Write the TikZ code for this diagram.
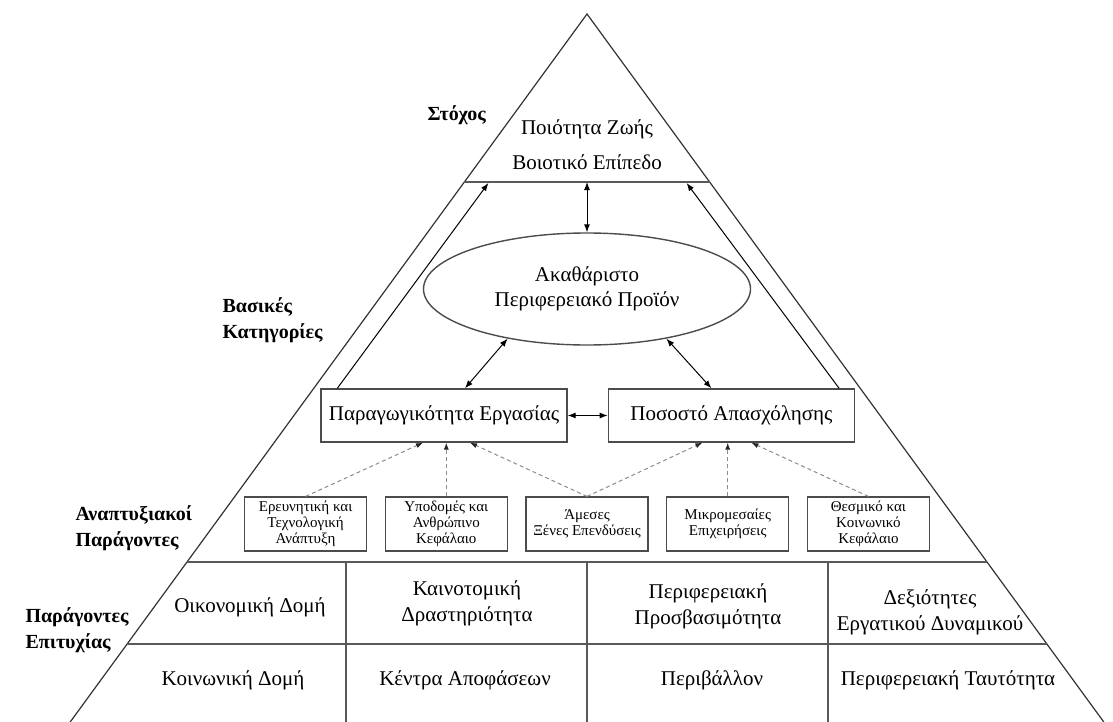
\documentclass[tikz,border=0pt]{standalone}
\usepackage{fontspec}
\setmainfont{Liberation Serif}
\usetikzlibrary{calc, positioning, shapes.geometric}
\usetikzlibrary{arrows.meta}

\tikzset{
  pyrside/.style={draw=black!80, line width=0.6pt},
  tierline/.style={draw=black!65, line width=0.8pt},
  mainbox/.style={draw=black!70, line width=0.7pt, minimum width=123pt, minimum height=26.5pt, inner sep=0pt},
  factor/.style={draw=black!70, line width=0.6pt, minimum width=61pt, minimum height=27pt, inner sep=0pt, align=center, font=\fontsize{7.5}{8}\selectfont},
  tag/.style={anchor=west, align=left, inner sep=0pt, font=\bfseries\fontsize{10}{13}\selectfont},
  cell/.style={align=center, inner sep=0pt},
  dotarrow/.style={-{Latex[length=3.5pt, width=2.6pt, black!85]}, black!45, line width=0.5pt, dash pattern=on 2pt off 1.5pt}
}

\begin{document}
\begin{tikzpicture}[x=0.5pt, y=-0.5pt, font=\fontsize{10.5}{13}\selectfont, >={Latex[length=4pt, width=3pt]}, line width=0.5pt]
    \useasboundingbox (0,0) rectangle (1113,722);

    % pyramid
    \coordinate (apex) at (587,14);
    \coordinate (bl) at (70.2,722);
    \coordinate (br) at (1103.8,722);
    \draw[pyrside] (bl) -- (apex) -- (br);

    \draw[tierline] ($(apex)!0.2373!(bl)$) -- ($(apex)!0.2373!(br)$);
    \draw[tierline] ($(apex)!0.7740!(bl)$) -- ($(apex)!0.7740!(br)$);
    \draw[tierline] ($(apex)!0.8898!(bl)$) -- ($(apex)!0.8898!(br)$);
    \draw[tierline] (346,562) -- (346,722);
    \draw[tierline] (587,562) -- (587,722);
    \draw[tierline] (828,562) -- (828,722);

    % tiers on the left
    \node[tag] (goaltag) at (427,115) {Στόχος};
    \node[tag] (basetag) at (222,320) {Βασικές\\Κατηγορίες};
    \node[tag] (devtag) at (75,528) {Αναπτυξιακοί\\Παράγοντες};
    \node[tag] (succtag) at (25,630) {Παράγοντες\\Επιτυχίας};

    \node[cell] (goal) at (587,145) {Ποιότητα Ζωής\\[4.5pt]Βοιοτικό Επίπεδο};
    \coordinate (goalbase) at (587,182);

    \node[ellipse, draw=black!70, line width=0.7pt, minimum width=163.5pt, minimum height=56pt, inner sep=0pt, align=center, font=\fontsize{10.5}{12.5}\selectfont] (gdp) at (587,289) {Ακαθάριστο\\Περιφερειακό Προϊόν};

    \node[mainbox] (parag) at (444,415.5) {Παραγωγικότητα Εργασίας};
    \node[mainbox, right=20pt of parag] (pct) {Ποσοστό Απασχόλησης};

    \node[factor] (f3) at (587,524) {Άμεσες\\Ξένες Επενδύσεις};
    \node[factor, left=8.75pt of f3] (f2) {Υποδομές και\\Ανθρώπινο\\Κεφάλαιο};
    \node[factor, left=8.75pt of f2] (f1) {Ερευνητική και\\Τεχνολογική\\Ανάπτυξη};
    \node[factor, right=8.75pt of f3] (f4) {Μικρομεσαίες\\Επιχειρήσεις};
    \node[factor, right=8.75pt of f4] (f5) {Θεσμικό και\\Κοινωνικό\\Κεφάλαιο};

    % success factors
    \node[cell] (c11) at (250,607) {Οικονομική Δομή};
    \node[cell] (c12) at (467,603.5) {Καινοτομική\\Δραστηριότητα};
    \node[cell] (c13) at (708,606) {Περιφερειακή\\Προσβασιμότητα};
    \node[cell] (c14) at (930,612) {Δεξιότητες\\Εργατικού Δυναμικού};
    \node[cell] (c21) at (233,680) {Κοινωνική Δομή};
    \node[cell] (c22) at (465,680) {Κέντρα Αποφάσεων};
    \node[cell] (c23) at (712,680) {Περιβάλλον};
    \node[cell] (c24) at (948,680) {Περιφερειακή Ταυτότητα};

    % arrows
    \draw[<->] (goalbase) -- (gdp);
    \draw[<->] (gdp.212) -- ([xshift=10.5pt]parag.north);
    \draw[<->] (gdp.328) -- ([xshift=-10pt]pct.north);
    \draw[<->] (parag) -- (pct);
    \coordinate (la) at (488.4,183);
    \coordinate (ra) at (686.6,183);
    \draw[->] ([xshift=8.5pt]parag.north west) -- (la);
    \draw[->] ([xshift=-8pt]pct.north east) -- (ra);

    \draw[dotarrow] (f1.north) -- ([xshift=-10.5pt]parag.south);
    \draw[dotarrow] (f2.north) -- (f2.north |- parag.south);
    \draw[dotarrow] (f3.north) -- ([xshift=13pt]parag.south);
    \draw[dotarrow] (f3.north) -- ([xshift=-14.5pt]pct.south);
    \draw[dotarrow] (f4.north) -- (f4.north |- pct.south);
    \draw[dotarrow] (f5.north) -- ([xshift=10pt]pct.south);

\end{tikzpicture}
\end{document}
